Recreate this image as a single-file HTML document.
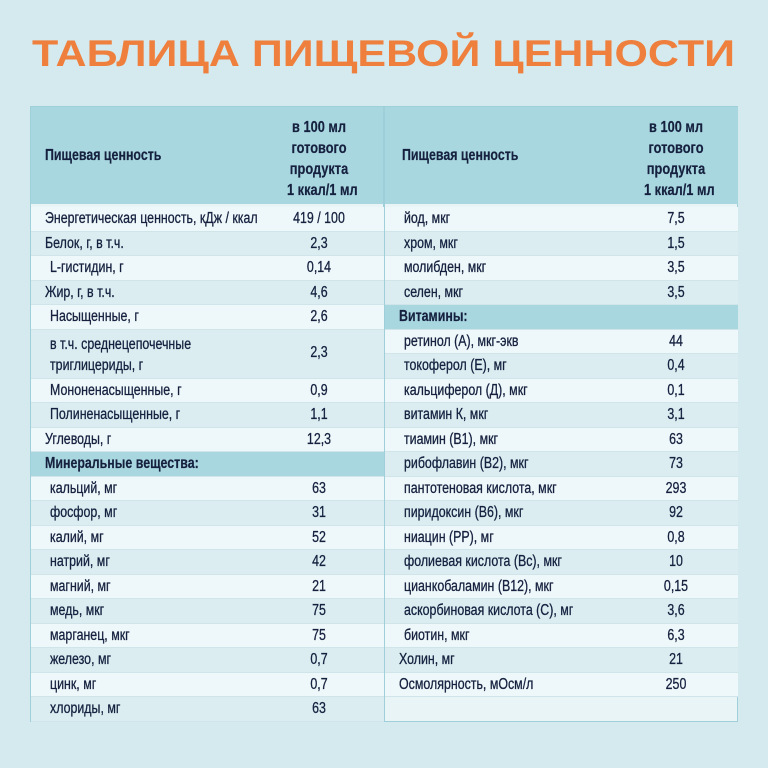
<!DOCTYPE html>
<html><head><meta charset="utf-8"><style>
body{margin:0;width:768px;height:768px;background:#d4eaee;position:relative;overflow:hidden;font-family:"Liberation Sans","DejaVu Sans",sans-serif;color:#15213f}
.t{position:absolute;left:0;top:0}
.tbl{position:absolute;left:30px;top:106px;width:708px;height:616px;background:#e9f4f6;border:1px solid #9fd0da;box-sizing:border-box}
.col{position:absolute;top:0;width:353px}
.r{position:absolute;left:0;width:353px;height:24.5px;border-bottom:1px solid #cfe5ea;box-sizing:border-box}
.a{background:#eef7f9}.b{background:#dbedf1}.s{background:#a9d7e0}
.l,.v{position:absolute;top:3px;font-size:15.5px;white-space:nowrap;transform:scaleX(0.8);transform-origin:left top;-webkit-text-stroke:0.3px #15213f}
.v{transform-origin:center top;width:80px;text-align:center}
.h{font-weight:bold;-webkit-text-stroke:0.2px #15213f}
.hdr{position:absolute;top:0;height:97px;background:#a9d7e0;width:353px}
</style></head><body>
<svg class="t" width="768" height="100"><text x="32" y="66" textLength="703" lengthAdjust="spacingAndGlyphs" font-family="Liberation Sans" font-weight="bold" font-size="37" fill="#ef7f3d">ТАБЛИЦА ПИЩЕВОЙ ЦЕННОСТИ</text></svg>
<div class="tbl">
<div class="hdr" style="left:0"></div>
<div class="hdr" style="left:354px"></div>
<div style="position:absolute;left:352px;top:0;width:2px;height:614px;background:#9fd0da"></div>
<div class="l h" style="left:14px;top:40px">Пищевая ценность</div>
<div class="v h" style="left:248px;top:10px;line-height:21px;width:80px;font-size:16px">в 100 мл<br>готового<br>продукта<br>1 ккал/1 мл</div>
<div class="l h" style="left:371px;top:40px">Пищевая ценность</div>
<div class="v h" style="left:605px;top:10px;line-height:21px;width:80px;font-size:16px">в 100 мл<br>готового<br>продукта<br>1 ккал/1 мл</div>

<div class="col" style="left:0;top:100px">
<div class="r a" style="top:0"><span class="l" style="left:14px">Энергетическая ценность, кДж / ккал</span><span class="v" style="left:248px">419 / 100</span></div>
<div class="r b" style="top:24.5px"><span class="l" style="left:14px">Белок, г, в т.ч.</span><span class="v" style="left:248px">2,3</span></div>
<div class="r a" style="top:49px"><span class="l" style="left:19px">L-гистидин, г</span><span class="v" style="left:248px">0,14</span></div>
<div class="r b" style="top:73.5px"><span class="l" style="left:14px">Жир, г, в т.ч.</span><span class="v" style="left:248px">4,6</span></div>
<div class="r a" style="top:98px"><span class="l" style="left:19px">Насыщенные, г</span><span class="v" style="left:248px">2,6</span></div>
<div class="r b" style="top:122.5px;height:49px"><span class="l" style="left:19px;line-height:21px;top:4px">в т.ч. среднецепочечные<br>триглицериды, г</span><span class="v" style="left:248px;top:14px">2,3</span></div>
<div class="r a" style="top:171.5px"><span class="l" style="left:19px">Мононенасыщенные, г</span><span class="v" style="left:248px">0,9</span></div>
<div class="r b" style="top:196px"><span class="l" style="left:19px">Полиненасыщенные, г</span><span class="v" style="left:248px">1,1</span></div>
<div class="r a" style="top:220.5px"><span class="l" style="left:14px">Углеводы, г</span><span class="v" style="left:248px">12,3</span></div>
<div class="r s" style="top:245px"><span class="l h" style="left:14px">Минеральные вещества:</span></div>
<div class="r a" style="top:269.5px"><span class="l" style="left:19px">кальций, мг</span><span class="v" style="left:248px">63</span></div>
<div class="r b" style="top:294px"><span class="l" style="left:19px">фосфор, мг</span><span class="v" style="left:248px">31</span></div>
<div class="r a" style="top:318.5px"><span class="l" style="left:19px">калий, мг</span><span class="v" style="left:248px">52</span></div>
<div class="r b" style="top:343px"><span class="l" style="left:19px">натрий, мг</span><span class="v" style="left:248px">42</span></div>
<div class="r a" style="top:367.5px"><span class="l" style="left:19px">магний, мг</span><span class="v" style="left:248px">21</span></div>
<div class="r b" style="top:392px"><span class="l" style="left:19px">медь, мкг</span><span class="v" style="left:248px">75</span></div>
<div class="r a" style="top:416.5px"><span class="l" style="left:19px">марганец, мкг</span><span class="v" style="left:248px">75</span></div>
<div class="r b" style="top:441px"><span class="l" style="left:19px">железо, мг</span><span class="v" style="left:248px">0,7</span></div>
<div class="r a" style="top:465.5px"><span class="l" style="left:19px">цинк, мг</span><span class="v" style="left:248px">0,7</span></div>
<div class="r b" style="top:490px"><span class="l" style="left:19px">хлориды, мг</span><span class="v" style="left:248px">63</span></div>
</div>

<div class="col" style="left:354px;top:100px">
<div class="r a" style="top:0"><span class="l" style="left:19px">йод, мкг</span><span class="v" style="left:251px">7,5</span></div>
<div class="r b" style="top:24.5px"><span class="l" style="left:19px">хром, мкг</span><span class="v" style="left:251px">1,5</span></div>
<div class="r a" style="top:49px"><span class="l" style="left:19px">молибден, мкг</span><span class="v" style="left:251px">3,5</span></div>
<div class="r b" style="top:73.5px"><span class="l" style="left:19px">селен, мкг</span><span class="v" style="left:251px">3,5</span></div>
<div class="r s" style="top:98px"><span class="l h" style="left:14px">Витамины:</span></div>
<div class="r a" style="top:122.5px"><span class="l" style="left:19px">ретинол (А), мкг-экв</span><span class="v" style="left:251px">44</span></div>
<div class="r b" style="top:147px"><span class="l" style="left:19px">токоферол (Е), мг</span><span class="v" style="left:251px">0,4</span></div>
<div class="r a" style="top:171.5px"><span class="l" style="left:19px">кальциферол (Д), мкг</span><span class="v" style="left:251px">0,1</span></div>
<div class="r b" style="top:196px"><span class="l" style="left:19px">витамин К, мкг</span><span class="v" style="left:251px">3,1</span></div>
<div class="r a" style="top:220.5px"><span class="l" style="left:19px">тиамин (В1), мкг</span><span class="v" style="left:251px">63</span></div>
<div class="r b" style="top:245px"><span class="l" style="left:19px">рибофлавин (В2), мкг</span><span class="v" style="left:251px">73</span></div>
<div class="r a" style="top:269.5px"><span class="l" style="left:19px">пантотеновая кислота, мкг</span><span class="v" style="left:251px">293</span></div>
<div class="r b" style="top:294px"><span class="l" style="left:19px">пиридоксин (В6), мкг</span><span class="v" style="left:251px">92</span></div>
<div class="r a" style="top:318.5px"><span class="l" style="left:19px">ниацин (РР), мг</span><span class="v" style="left:251px">0,8</span></div>
<div class="r b" style="top:343px"><span class="l" style="left:19px">фолиевая кислота (Вс), мкг</span><span class="v" style="left:251px">10</span></div>
<div class="r a" style="top:367.5px"><span class="l" style="left:19px">цианкобаламин (В12), мкг</span><span class="v" style="left:251px">0,15</span></div>
<div class="r b" style="top:392px"><span class="l" style="left:19px">аскорбиновая кислота (С), мг</span><span class="v" style="left:251px">3,6</span></div>
<div class="r a" style="top:416.5px"><span class="l" style="left:19px">биотин, мкг</span><span class="v" style="left:251px">6,3</span></div>
<div class="r b" style="top:441px"><span class="l" style="left:14px">Холин, мг</span><span class="v" style="left:251px">21</span></div>
<div class="r a" style="top:465.5px"><span class="l" style="left:14px">Осмолярность, мОсм/л</span><span class="v" style="left:251px">250</span></div>
</div>
</div>
</body></html>
